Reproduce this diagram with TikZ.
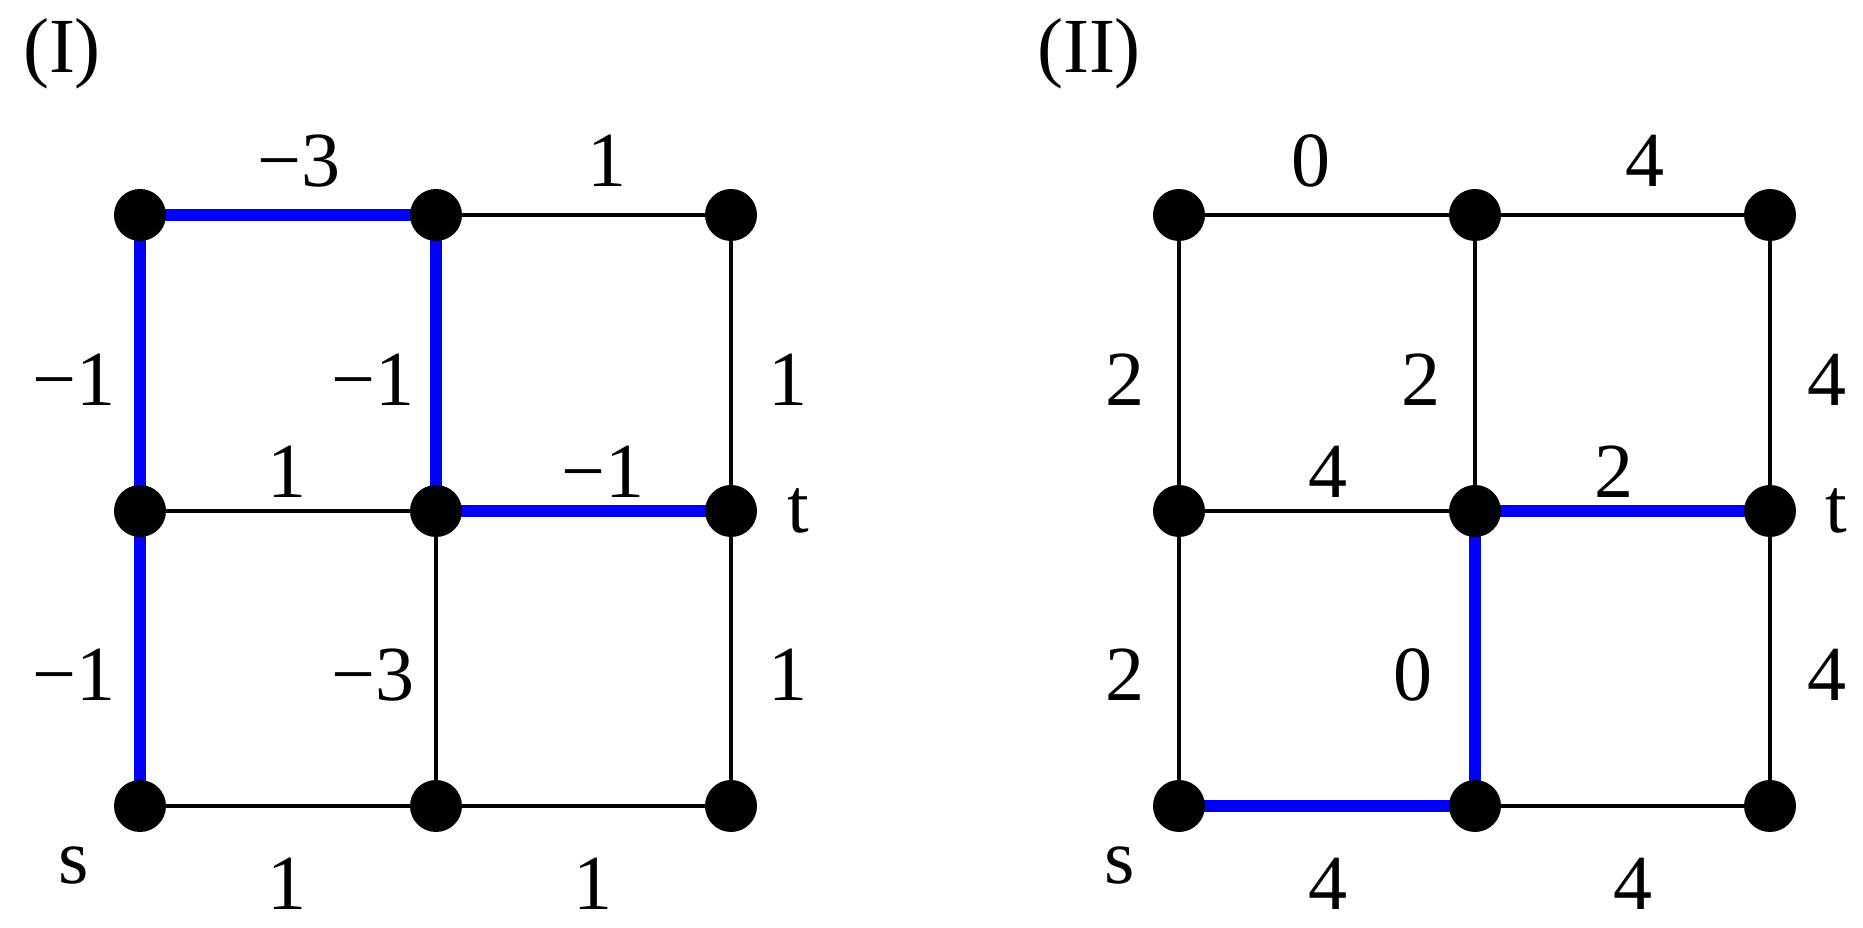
\documentclass[tikz,border=0pt]{standalone}
\usepackage{fontspec}
\setmainfont{Liberation Serif}
\begin{document}
\begin{tikzpicture}[x=1pt,y=1pt,
  dot/.style={circle,fill=black,minimum size=52pt,inner sep=0pt},
  e/.style={line width=3.6pt,black},
  b/.style={line width=12pt,blue},
  lab/.style={font=\fontsize{78}{80}\selectfont,inner sep=0pt}]
\useasboundingbox (0,0) rectangle (1863,928);
% left grid
\foreach \i/\x in {0/140,1/436,2/731}{
  \foreach \j/\y in {0/122,1/417,2/713}{
    \coordinate (L\i\j) at (\x,\y);
    \coordinate (R\i\j) at (\x+1039,\y);
  }}
\draw[e] (L00)--(L20) (L01)--(L21) (L02)--(L22) (L00)--(L02) (L10)--(L12) (L20)--(L22);
\draw[b] (L02)--(L12) (L02)--(L00) (L12)--(L11)--(L21);
\draw[e] (R00)--(R20) (R01)--(R21) (R02)--(R22) (R00)--(R02) (R10)--(R12) (R20)--(R22);
\draw[b] (R00)--(R10)--(R11)--(R21);
\foreach \i in {0,1,2}{\foreach \j in {0,1,2}{
  \node[dot] (nL\i\j) at (L\i\j) {};
  \node[dot] (nR\i\j) at (R\i\j) {};}}
% labels left
\node[lab] (a1) at (62,874) {(I)};
\node[lab] (a2) at (299,767) {−3};
\node[lab] (a3) at (607,767) {1};
\node[lab] (a4) at (74,548) {−1};
\node[lab] (a5) at (373,548) {−1};
\node[lab] (a6) at (788,548) {1};
\node[lab] (a7) at (287,456) {1};
\node[lab] (a8) at (603,456) {−1};
\node[lab] (a9) at (798,417) {t};
\node[lab] (a10) at (74,253) {−1};
\node[lab] (a11) at (373,253) {−3};
\node[lab] (a12) at (788,253) {1};
\node[lab] (a13) at (74,62) {s};
\node[lab] (a14) at (287,44) {1};
\node[lab] (a15) at (593,44) {1};
% labels right
\node[lab] (b1) at (1089,874) {(II)};
\node[lab] (b2) at (1311,767) {0};
\node[lab] (b3) at (1645,767) {4};
\node[lab] (b4) at (1125,548) {2};
\node[lab] (b5) at (1421,548) {2};
\node[lab] (b6) at (1827,548) {4};
\node[lab] (b7) at (1328,456) {4};
\node[lab] (b8) at (1614,456) {2};
\node[lab] (b9) at (1836,417) {t};
\node[lab] (b10) at (1125,253) {2};
\node[lab] (b11) at (1413,253) {0};
\node[lab] (b12) at (1827,253) {4};
\node[lab] (b13) at (1120,62) {s};
\node[lab] (b14) at (1328,44) {4};
\node[lab] (b15) at (1633,44) {4};
\end{tikzpicture}
\end{document}
